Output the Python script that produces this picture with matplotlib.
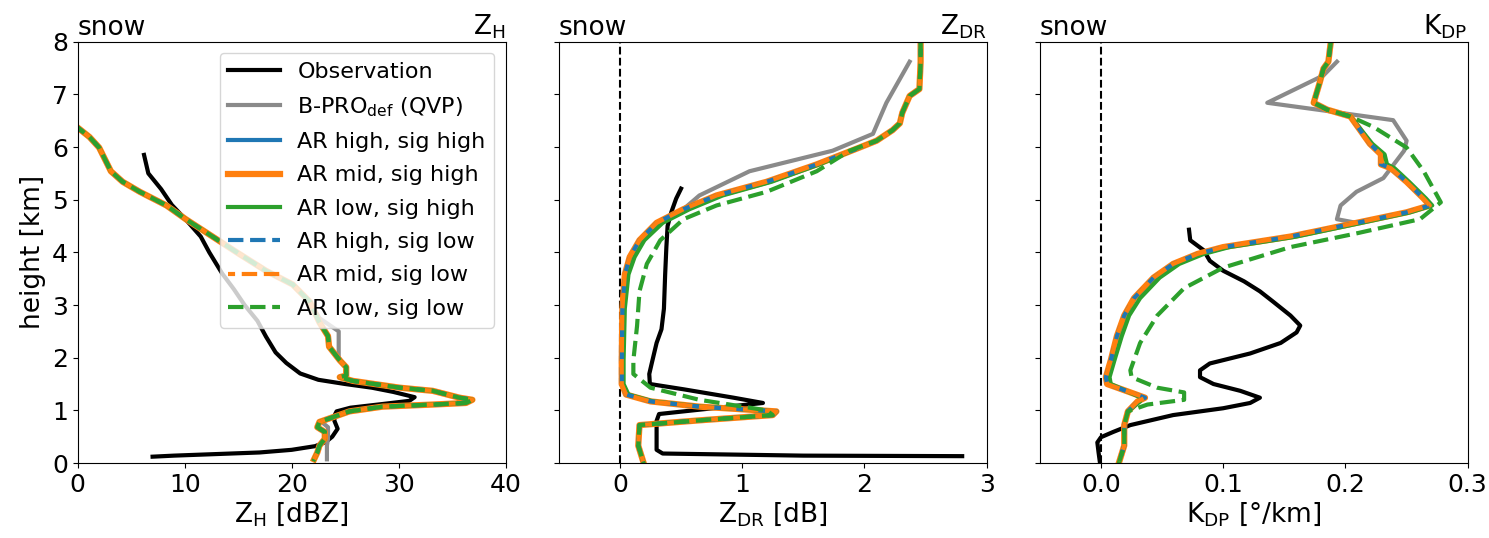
import numpy as np
import matplotlib
matplotlib.use("Agg")
import matplotlib.pyplot as plt

plt.rcParams['font.family'] = 'DejaVu Sans'
plt.rcParams['xtick.labelsize'] = 18
plt.rcParams['ytick.labelsize'] = 18
plt.rcParams['axes.labelsize'] = 19
plt.rcParams['axes.titlesize'] = 19

# ---------------------------------------------------------------------------
# Data
# ---------------------------------------------------------------------------
# --- Z_H panel ---
zh_obs_h = [5.85, 5.5, 5.2, 4.9, 4.6, 4.3, 4.0, 3.6, 3.3, 3.0, 2.7, 2.4, 2.1, 1.9,
            1.7, 1.58, 1.5, 1.43, 1.35, 1.25, 1.18, 1.12, 1.05, 0.98, 0.9, 0.8,
            0.65, 0.5, 0.4, 0.32, 0.25, 0.2, 0.17, 0.14, 0.12]
zh_obs = [6.2, 6.6, 7.8, 8.8, 10.2, 11.5, 12.3, 13.5, 14.6, 15.6, 16.8, 17.6, 18.5,
          19.5, 20.8, 22.5, 25.0, 27.5, 29.5, 31.5, 31.0, 28.5, 25.5, 24.2, 24.0,
          24.0, 24.3, 23.8, 23.2, 22.2, 20.0, 17.0, 13.0, 9.0, 7.0]

zh_ar_h = [6.45, 6.19, 5.99, 5.54, 5.34, 5.15, 4.89, 4.63, 4.3, 3.97, 3.65, 3.39,
           3.06, 2.67, 2.41, 2.21, 1.95, 1.82, 1.66, 1.63, 1.56, 1.43, 1.37, 1.24,
           1.2, 1.14, 1.11, 1.07, 0.98, 0.78, 0.68, 0.59, 0.46, 0.33, 0.2, 0.07]
zh_ar = [-0.5, 1.1, 2.0, 3.1, 4.2, 5.8, 8.3, 10.1, 12.6, 15.1, 17.6, 20.1, 21.7,
         22.6, 23.4, 23.5, 24.5, 25.1, 25.1, 24.5, 25.7, 30.1, 33.2, 35.7, 36.9,
         36.3, 33.2, 28.5, 25.4, 22.6, 22.4, 23.1, 23.1, 22.6, 22.4, 22.1]
zh_ar_low = zh_ar
zh_ar_low_lo_h = zh_ar_h
zh_ar_low_lo = zh_ar

zh_bpro_h = [6.45, 6.19, 5.99, 5.54, 5.34, 5.15, 4.89, 4.63, 4.3, 3.97, 3.65, 3.39,
             3.06, 2.75, 2.5, 2.0, 1.82, 1.66, 1.63, 1.56, 1.43, 1.37, 1.24, 1.2,
             1.14, 1.11, 1.07, 0.98, 0.78, 0.68, 0.59, 0.46, 0.33, 0.2, 0.07]
zh_bpro = [-0.5, 1.1, 2.0, 3.1, 4.2, 5.8, 8.3, 10.1, 12.6, 15.1, 17.6, 20.1, 21.7,
           22.6, 24.4, 24.4, 25.1, 25.1, 24.5, 25.7, 30.1, 33.2, 35.7, 36.9, 36.3,
           33.2, 28.5, 25.4, 22.8, 23.4, 23.4, 23.4, 23.3, 23.3, 23.3]

# --- Z_DR panel ---
zdr_obs_h = [5.21, 5.02, 4.76, 4.5, 4.1, 3.58, 2.93, 2.54, 2.28, 1.89, 1.69, 1.5,
             1.4, 1.24, 1.14, 1.0, 0.93, 0.8, 0.5, 0.25, 0.18, 0.14, 0.13]
zdr_obs = [0.50, 0.46, 0.42, 0.39, 0.38, 0.37, 0.36, 0.34, 0.30, 0.26, 0.24, 0.245,
           0.52, 0.93, 1.17, 0.6, 0.32, 0.30, 0.30, 0.30, 0.35, 1.5, 2.8]

zdr_ar_h = [8.0, 7.62, 7.1, 6.97, 6.65, 6.45, 6.32, 6.12, 5.99, 5.67, 5.34, 5.08,
            4.82, 4.56, 4.23, 3.91, 3.58, 2.93, 1.95, 1.5, 1.3, 1.17, 1.07, 0.98,
            0.91, 0.81, 0.72, 0.33, 0.03]
zdr_ar = [2.46, 2.46, 2.45, 2.37, 2.31, 2.29, 2.23, 2.10, 1.96, 1.61, 1.20, 0.79,
          0.52, 0.30, 0.16, 0.08, 0.04, 0.02, 0.015, 0.015, 0.05, 0.25, 0.65, 1.28,
          1.25, 0.65, 0.16, 0.15, 0.19]
zdr_ar_low = [2.46, 2.46, 2.45, 2.37, 2.31, 2.29, 2.23, 2.10, 1.96, 1.63, 1.24, 0.84,
              0.57, 0.35, 0.20, 0.12, 0.07, 0.04, 0.03, 0.03, 0.07, 0.27, 0.66, 1.28,
              1.25, 0.65, 0.16, 0.15, 0.19]
zdr_ar_low_lo_h = [8.0, 7.62, 7.1, 6.97, 6.65, 6.45, 6.32, 6.12, 5.93, 5.54, 5.15,
                   4.89, 4.63, 4.23, 3.78, 3.26, 2.6, 1.95, 1.69, 1.43, 1.2, 1.0,
                   0.91, 0.81, 0.72, 0.33, 0.03]
zdr_ar_low_lo = [2.46, 2.46, 2.45, 2.37, 2.31, 2.29, 2.23, 2.10, 1.88, 1.61, 1.20,
                 0.79, 0.52, 0.33, 0.22, 0.16, 0.14, 0.11, 0.11, 0.25, 0.65, 1.2,
                 1.25, 0.65, 0.16, 0.15, 0.19]

zdr_bpro_h = [7.62, 6.84, 6.25, 5.93, 5.54, 5.08, 4.82, 4.56, 4.23, 3.91, 3.58, 2.93,
              1.95, 1.5, 1.3, 1.17, 1.07, 0.98, 0.91, 0.81, 0.72, 0.33, 0.03]
zdr_bpro = [2.37, 2.18, 2.07, 1.74, 1.06, 0.65, 0.52, 0.30, 0.16, 0.08, 0.04, 0.02,
            0.015, 0.015, 0.05, 0.25, 0.65, 1.28, 1.25, 0.65, 0.16, 0.15, 0.19]

# --- K_DP panel ---
kdp_obs_h = [4.43, 4.23, 4.04, 3.84, 3.65, 3.45, 3.26, 3.06, 2.8, 2.61, 2.48, 2.28,
             2.08, 1.89, 1.76, 1.63, 1.5, 1.37, 1.24, 1.14, 1.04, 0.91, 0.72, 0.59,
             0.49, 0.39, 0.2, 0.03]
kdp_obs = [0.072, 0.073, 0.084, 0.089, 0.100, 0.117, 0.130, 0.141, 0.155, 0.163,
           0.160, 0.147, 0.122, 0.089, 0.081, 0.081, 0.092, 0.114, 0.130, 0.122,
           0.100, 0.059, 0.024, 0.010, 0.000, -0.003, -0.002, -0.001]

kdp_ar_h = [8.0, 7.62, 7.49, 7.23, 6.84, 6.71, 6.58, 6.32, 6.06, 5.86, 5.67, 5.6,
            5.34, 5.02, 4.89, 4.76, 4.56, 4.3, 4.1, 3.97, 3.78, 3.52, 3.13, 2.8,
            2.41, 1.95, 1.63, 1.5, 1.24, 1.17, 0.98, 0.72, 0.33, 0.03]
kdp_ar = [0.188, 0.186, 0.182, 0.179, 0.174, 0.185, 0.204, 0.212, 0.220, 0.229,
          0.229, 0.237, 0.250, 0.264, 0.269, 0.250, 0.209, 0.155, 0.100, 0.079,
          0.059, 0.043, 0.027, 0.019, 0.013, 0.008, 0.004, 0.005, 0.036, 0.030,
          0.022, 0.019, 0.019, 0.015]
kdp_ar_low = [0.188, 0.186, 0.182, 0.179, 0.174, 0.185, 0.204, 0.213, 0.222, 0.232,
              0.234, 0.240, 0.252, 0.266, 0.271, 0.253, 0.213, 0.160, 0.105, 0.084,
              0.064, 0.048, 0.032, 0.023, 0.017, 0.011, 0.007, 0.008, 0.033, 0.032,
              0.022, 0.019, 0.019, 0.015]
kdp_ar_low_lo_h = [8.0, 7.62, 7.49, 7.23, 6.84, 6.71, 6.58, 6.38, 5.99, 5.54, 4.95,
                   4.63, 4.36, 4.1, 3.71, 3.32, 2.8, 2.28, 1.76, 1.63, 1.43, 1.34,
                   1.2, 1.11, 0.98, 0.72, 0.33, 0.03]
kdp_ar_low_lo = [0.188, 0.186, 0.182, 0.179, 0.174, 0.185, 0.204, 0.223, 0.250,
                 0.264, 0.278, 0.261, 0.209, 0.155, 0.100, 0.068, 0.046, 0.032,
                 0.024, 0.025, 0.046, 0.068, 0.068, 0.038, 0.022, 0.019, 0.019, 0.015]

kdp_bpro_h = [7.62, 7.36, 6.84, 6.71, 6.51, 6.12, 5.93, 5.41, 5.15, 4.89, 4.63,
              4.56, 4.3, 4.1, 3.97, 3.78, 3.52, 3.13, 2.8, 2.41, 1.95, 1.63, 1.5,
              1.24, 1.17, 0.98, 0.72, 0.33, 0.03]
kdp_bpro = [0.193, 0.182, 0.136, 0.177, 0.239, 0.250, 0.248, 0.231, 0.209, 0.196,
            0.193, 0.209, 0.155, 0.100, 0.079, 0.059, 0.043, 0.027, 0.019, 0.013,
            0.008, 0.004, 0.005, 0.036, 0.030, 0.022, 0.019, 0.019, 0.015]

PANELS = [
    dict(obs=(zh_obs, zh_obs_h), bpro=(zh_bpro, zh_bpro_h), ar=(zh_ar, zh_ar_h),
         ar_low=(zh_ar_low, zh_ar_h), ar_low_lo=(zh_ar_low_lo, zh_ar_low_lo_h),
         xlim=(0, 40), xticks=[0, 10, 20, 30, 40], xlabels=None,
         name='Z$_\\mathregular{H}$', xlabel='Z$_\\mathregular{H}$ [dBZ]', zero=False),
    dict(obs=(zdr_obs, zdr_obs_h), bpro=(zdr_bpro, zdr_bpro_h), ar=(zdr_ar, zdr_ar_h),
         ar_low=(zdr_ar_low, zdr_ar_h), ar_low_lo=(zdr_ar_low_lo, zdr_ar_low_lo_h),
         xlim=(-0.5, 3), xticks=[0, 1, 2, 3], xlabels=None,
         name='Z$_\\mathregular{DR}$', xlabel='Z$_\\mathregular{DR}$ [dB]', zero=True),
    dict(obs=(kdp_obs, kdp_obs_h), bpro=(kdp_bpro, kdp_bpro_h), ar=(kdp_ar, kdp_ar_h),
         ar_low=(kdp_ar_low, kdp_ar_h), ar_low_lo=(kdp_ar_low_lo, kdp_ar_low_lo_h),
         xlim=(-0.05, 0.3), xticks=[0.0, 0.1, 0.2, 0.3],
         xlabels=['0.0', '0.1', '0.2', '0.3'],
         name='K$_\\mathregular{DP}$', xlabel='K$_\\mathregular{DP}$ [°/km]', zero=True),
]

BLUE, ORANGE, GREEN = 'tab:blue', 'tab:orange', 'tab:green'
GRAY = '#8a8a8a'

# ---------------------------------------------------------------------------
# Figure
# ---------------------------------------------------------------------------
fig, axes = plt.subplots(1, 3, figsize=(14.89, 5.38), sharey=True)
fig.subplots_adjust(left=0.0522, right=0.9857, bottom=0.1394, top=0.9225,
                    wspace=0.1245)

for i, (ax, p) in enumerate(zip(axes, PANELS)):
    if p['zero']:
        ax.axvline(0, color='k', ls='--', lw=1.5, zorder=1)
    ax.plot(*p['obs'], color='k', lw=3, label='Observation')
    ax.plot(*p['bpro'], color=GRAY, lw=3, label='B-PRO$_\\mathregular{def}$ (QVP)')
    ax.plot(*p['ar'], color=BLUE, lw=3, label='AR high, sig high')
    ax.plot(*p['ar'], color=ORANGE, lw=4.5, label='AR mid, sig high')
    ax.plot(*p['ar_low'], color=GREEN, lw=3, label='AR low, sig high')
    ax.plot(*p['ar'], color=BLUE, lw=3, ls='--', label='AR high, sig low')
    ax.plot(*p['ar'], color=ORANGE, lw=3, ls=(2, (3.7, 1.6)), label='AR mid, sig low')
    ax.plot(*p['ar_low_lo'], color=GREEN, lw=3, ls='--', label='AR low, sig low')

    ax.set_xlim(*p['xlim'])
    ax.set_ylim(0, 8)
    ax.set_xticks(p['xticks'])
    if p['xlabels']:
        ax.set_xticklabels(p['xlabels'])
    ax.set_yticks(range(0, 9))
    ax.set_xlabel(p['xlabel'], labelpad=2)
    ax.set_title('snow', loc='left', pad=5)
    ax.set_title(p['name'], loc='right', pad=5)

axes[0].set_ylabel('height [km]', labelpad=4)
axes[0].legend(loc='upper right', fontsize=16, handlelength=2.3,
               labelspacing=0.6, handletextpad=0.8)

plt.savefig('out.png', dpi=100, facecolor='white')
